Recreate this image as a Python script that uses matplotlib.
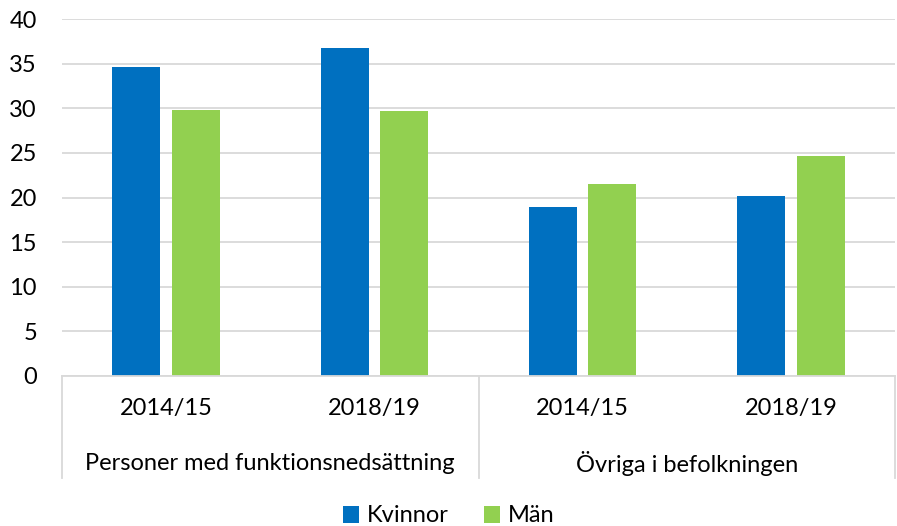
import matplotlib
matplotlib.use('Agg')
import matplotlib.pyplot as plt
import matplotlib.transforms as mtransforms
from matplotlib.patches import Patch
import numpy as np

plt.rcParams['font.family'] = ['Lato', 'DejaVu Sans']

# data
groups = ['Personer med funktionsnedsättning', 'Övriga i befolkningen']
years = ['2014/15', '2018/19', '2014/15', '2018/19']
kvinnor = [34.6, 36.8, 18.9, 20.2]
man = [29.8, 29.7, 21.5, 24.6]
series_names = ['Kvinnor', 'Män']
colors = ['#0070C0', '#92D050']

fig = plt.figure(figsize=(8.97, 5.26), dpi=100, facecolor='white')
ax = fig.add_axes([62 / 897, 1 - 376 / 526, 833 / 897, 357 / 526])

x = np.arange(len(years)) + 0.5
w = 0.23
off = 0.143
ax.bar(x - off, kvinnor, width=w, color=colors[0], zorder=3)
ax.bar(x + off, man, width=w, color=colors[1], zorder=3)

ax.set_xlim(0, len(years))
ax.set_ylim(0, 40)
ax.set_yticks(np.arange(0, 41, 5))
ax.tick_params(axis='y', length=0, labelsize=17, pad=18)
ax.tick_params(axis='x', length=0, labelbottom=False)
ax.grid(axis='y', color='#D9D9D9', linewidth=1.3, zorder=0)
for s in ['top', 'right', 'left']:
    ax.spines[s].set_visible(False)
ax.spines['bottom'].set_color('#D9D9D9')
ax.spines['bottom'].set_linewidth(1.3)
ax.spines['bottom'].set_zorder(4)

# multi-level category axis
trans = mtransforms.blended_transform_factory(ax.transData, ax.transAxes)
for xi, lab in zip(x, years):
    ax.text(xi, -0.09, lab, transform=trans, ha='center', va='center', fontsize=17)
for gi, g in enumerate(groups):
    ax.text(gi * 2 + 1, -0.245, g, transform=trans, ha='center', va='center', fontsize=17)
for xs in [0, 2, 4]:
    ax.plot([xs, xs], [0, -0.286], transform=trans, color='#D9D9D9',
            linewidth=1.3, clip_on=False)

handles = [Patch(facecolor=c, label=n) for c, n in zip(colors, series_names)]
fig.legend(handles=handles, loc='center', bbox_to_anchor=(0.5, 1 - 516 / 526), ncol=2,
           frameon=False, fontsize=17, handlelength=0.7, handleheight=0.7,
           handletextpad=0.3, columnspacing=1.5, borderpad=0)

fig.savefig('out.png', dpi=100, facecolor='white')
